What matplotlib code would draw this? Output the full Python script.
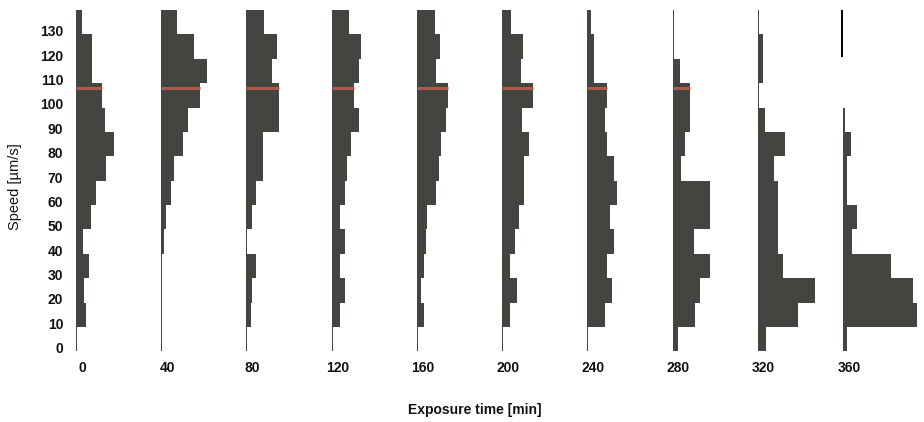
import matplotlib

matplotlib.use("Agg")
import matplotlib.pyplot as plt
from matplotlib.transforms import offset_copy

# exposure times (min) and 10 um/s speed bins (lower edges)
times = [0, 40, 80, 120, 160, 200, 240, 280, 320, 360]
bin_lower = [-1.5, 8.5, 18.5, 28.5, 38.5, 48.5, 58.5, 68.5, 78.5, 88.5, 98.5, 108.5, 118.5, 128.5]
bin_width = 10

# histogram heights per time point, bottom bin first (arbitrary units)
counts_0 = [1, 10, 8, 13, 7, 15, 20, 30, 38, 29, 26, 16, 16, 6]
counts_40 = [1, 1, 1, 1, 3, 5, 10, 13, 22, 27, 39, 46, 33, 16]
counts_80 = [1, 5, 6, 10, 1, 6, 10, 17, 17, 33, 33, 26, 31, 18]
counts_120 = [1, 8, 13, 8, 13, 8, 13, 15, 19, 27, 22, 27, 29, 17]
counts_160 = [1, 7, 4, 7, 9, 10, 19, 22, 24, 29, 31, 19, 23, 18]
counts_200 = [1, 8, 15, 8, 13, 17, 22, 22, 27, 20, 31, 19, 21, 9]
counts_240 = [1, 18, 25, 20, 27, 23, 30, 27, 20, 18, 20, 7, 7, 4]
counts_280 = [5, 22, 27, 37, 21, 37, 37, 8, 12, 17, 17, 7, 1, 1]
counts_320 = [8, 40, 57, 25, 20, 20, 20, 16, 27, 7, 1, 5, 5, 1]
counts_360 = [4, 74, 70, 48, 9, 14, 4, 4, 8, 2, 0, 0, 0, 0]
all_counts = [counts_0, counts_40, counts_80, counts_120, counts_160,
              counts_200, counts_240, counts_280, counts_320, counts_360]

# marked speed (red line) and the time points that carry it
marker_speed = 106.4
marker_times = [0, 40, 80, 120, 160, 200, 240, 280]
# stray vertical stroke above the last histogram
stroke_speed = [119.4, 138.5]

ytick_vals = list(range(0, 140, 10))

BAR = "#434640"
RED = "#ad5a4b"
TEXT = "#111111"
SCALE = 1 / 2.1306  # minutes of x axis per count unit

fig = plt.figure(figsize=(9.24, 4.22), dpi=100)
ax = fig.add_axes([59 / 924, 67 / 422, 862.8 / 924, 348.6 / 422])
ax.set_xlim(-8, 397)
ax.set_ylim(-3, 140)

for t, counts in zip(times, all_counts):
    widths = [c * SCALE for c in counts]
    ax.barh(bin_lower, widths, height=bin_width, left=t, align="edge",
            color=BAR, edgecolor="none", linewidth=0)
    if t in marker_times:
        w = counts[bin_lower.index(98.5)] * SCALE
        ax.hlines(marker_speed, t, t + w, color=RED, linewidth=2.2)

ax.vlines(times[-1] - 0.4, stroke_speed[0], stroke_speed[1], color="#000000", linewidth=1.4)

for s in ax.spines.values():
    s.set_visible(False)

ax.set_yticks(ytick_vals)
ax.set_yticklabels([str(v) for v in ytick_vals], fontfamily="Liberation Sans",
                   fontweight="bold", fontsize=10, color=TEXT)
ax.tick_params(axis="y", length=0, pad=-3)

ax.set_xticks(times)
ax.set_xticklabels([str(t) for t in times], fontfamily=["Liberation Sans Narrow", "Liberation Sans"],
                   fontweight="bold", fontsize=10, color=TEXT)
ax.tick_params(axis="x", length=0, pad=4)
for lab in ax.get_xticklabels():
    lab.set_transform(offset_copy(lab.get_transform(), fig=fig, x=6, y=0, units="dots"))

fig.text(475 / 924, 1 - 410 / 422, "Exposure time [min]", ha="center", va="center",
         fontfamily=["Liberation Sans Narrow", "Liberation Sans"], fontweight="bold",
         fontsize=10, color=TEXT)
fig.text(15 / 924, 1 - 187 / 422, "Speed [µm/s]", ha="center", va="center", rotation=90,
         fontfamily="Liberation Sans", fontsize=10.5, color=TEXT)

fig.savefig("out.png", dpi=100)
